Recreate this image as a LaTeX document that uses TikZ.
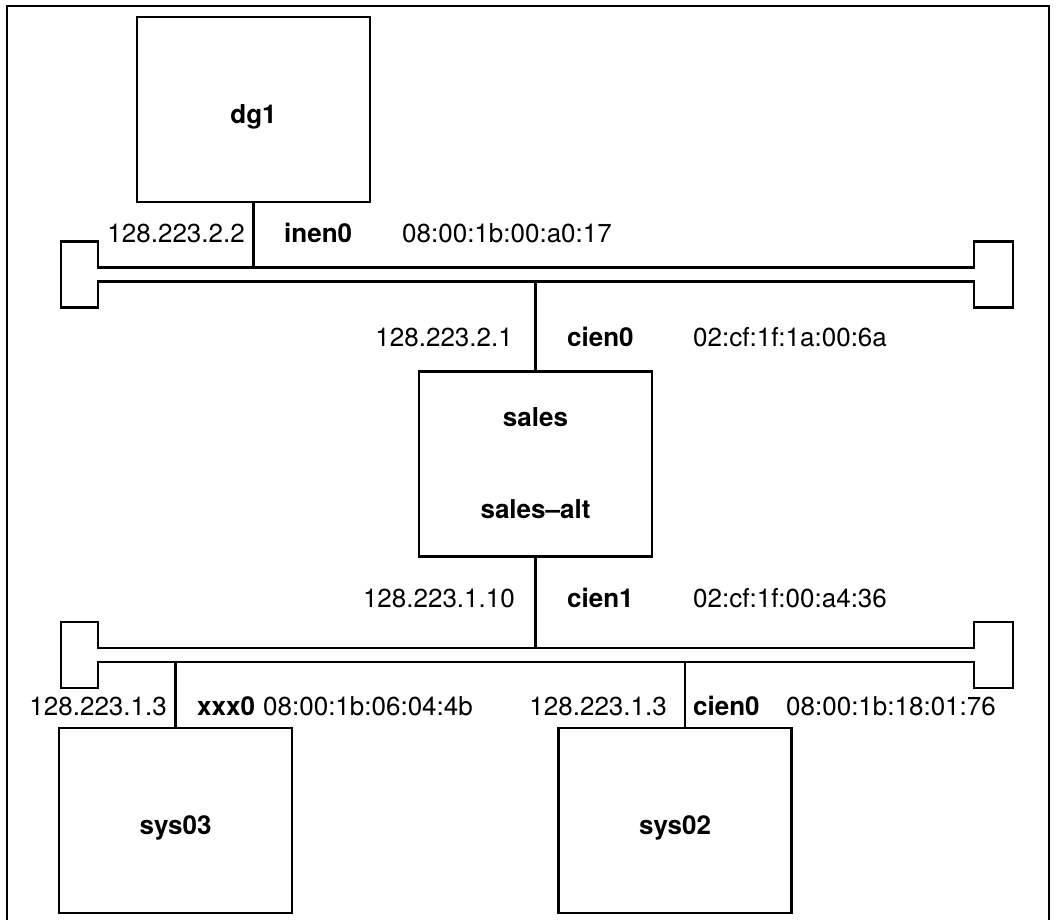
\documentclass[tikz,border=0pt]{standalone}
\usepackage{fontspec}
\setmainfont{TeX Gyre Heros}
\usetikzlibrary{calc}
\tikzset{
  nd_host/.style={rectangle,draw=black,line width=2.8pt,minimum width=233pt,minimum height=185pt,inner sep=0pt,align=center,text height=27pt,text depth=0pt,font=\fontsize{26}{30}\selectfont\bfseries},
  nd_addr/.style={anchor=base east,inner sep=0pt,font=\fontsize{26}{30}\selectfont},
  nd_if/.style={anchor=base west,inner sep=0pt,font=\fontsize{26}{30}\selectfont\bfseries},
  nd_mac/.style={anchor=base west,inner sep=0pt,font=\fontsize{26}{30}\selectfont},
  ln_tap/.style={line width=2.2pt},
  ln_bus/.style={line width=2.8pt,line join=miter},
}
\newcommand{\ethernet}[1]{% #1 = centre of the cable
  \draw[ln_bus](98,#1-7)--(98,#1-33)--(61,#1-33)--(61,#1+33)--(98,#1+33)--(98,#1+7)
    --(974,#1+7)--(974,#1+33)--(1013,#1+33)--(1013,#1-33)--(974,#1-33)--(974,#1-7)--cycle;}

\begin{document}
\begin{tikzpicture}[x=1pt,y=-1pt]
\useasboundingbox(0,0) rectangle (1057,919);
\draw[line width=2pt](7,930)--(7,6)--(1049,6)--(1049,930);
% cables
\ethernet{274.5}
\ethernet{655}
% hosts
\node[nd_host] at (253.5,109.5)(dg1){dg1};
\node[nd_host,text height=108pt] at (535.5,464)(sales){sales\\[62pt]sales--alt};
\node[nd_host] at (175.5,820.5)(sys03){sys03};
\node[nd_host] at (675,820.5)(sys02){sys02};
% taps
\coordinate (N1a) at (253.5,267.5);
\coordinate (N1b) at (535.5,281.5);
\coordinate (N2a) at (535.5,648);
\coordinate (N2b) at (175.5,662);
\coordinate (N2c) at (685,662);
\draw[ln_tap](dg1.south)--(N1a);
\draw[ln_tap](N1b)--(sales.north);
\draw[ln_tap](sales.south)--(N2a);
\draw[ln_tap](N2b)--(sys03.north);
\draw[ln_tap](N2c)--(N2c|-sys02.north);
% dg1
\node[nd_addr] at (245,242)(A1){128.223.2.2};
\node[nd_if]   at (284,242)(I1){inen0};
\node[nd_mac]  at (402,242)(M1){08:00:1b:00:a0:17};
% sales, net 2
\node[nd_addr] at (513,346)(A2){128.223.2.1};
\node[nd_if]   at (567,346)(I2){cien0};
\node[nd_mac]  at (693,346)(M2){02:cf:1f:1a:00:6a};
% sales, net 1
\node[nd_addr] at (515,607)(A3){128.223.1.10};
\node[nd_if]   at (567,607)(I3){cien1};
\node[nd_mac]  at (693,607)(M3){02:cf:1f:00:a4:36};
% sys03
\node[nd_addr] at (167,715)(A4){128.223.1.3};
\node[nd_if]   at (197,715)(I4){xxx0};
\node[nd_mac]  at (263,715)(M4){08:00:1b:06:04:4b};
% sys02
\node[nd_addr] at (667,715)(A5){128.223.1.3};
\node[nd_if]   at (693,715)(I5){cien0};
\node[nd_mac]  at (786,715)(M5){08:00:1b:18:01:76};
\end{tikzpicture}
\end{document}
